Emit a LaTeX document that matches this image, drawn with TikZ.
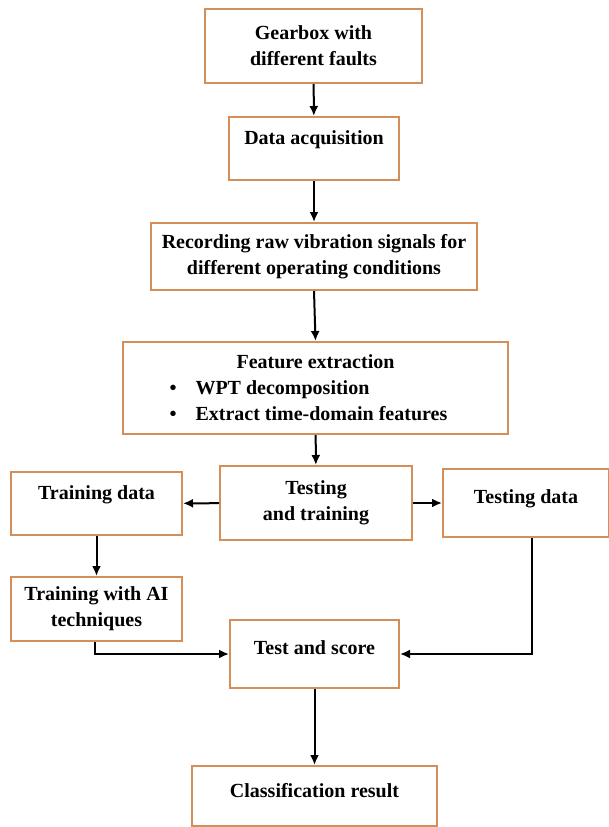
\documentclass[tikz,border=0pt]{standalone}
\usepackage{fontspec}
\setmainfont{Liberation Serif}
\usetikzlibrary{arrows.meta}
\definecolor{boxorange}{RGB}{214,142,88}
\begin{document}
\begin{tikzpicture}[x=1pt,y=-1pt,
	box/.style={draw=boxorange,line width=2pt,rectangle,inner sep=0pt,align=center,font=\fontsize{20}{26}\selectfont\bfseries},
	high/.style={text height=14pt,text depth=#1},
	flow/.style={line width=2pt,-{Latex[length=10pt,width=9pt]}}]
		\useasboundingbox (0,0) rectangle (608,827);
		\node [box,minimum width=217,minimum height=74] (gear) at (313.5,46) {Gearbox with\\different faults};
		\node [box,high=22pt,minimum width=170,minimum height=63] (acq) at (314,148.5) {Data acquisition};
		\node [box,minimum width=326,minimum height=67] (rec) at (314,256.5) {Recording raw vibration signals for\\different operating conditions};
		\node [box,minimum width=385,minimum height=92] (feat) at (315.5,388) {Feature extraction\\
			\makebox[292pt][l]{\textbullet\hspace{19pt}WPT decomposition}\\
			\makebox[292pt][l]{\textbullet\hspace{19pt}Extract time-domain features}};
		\node [box,minimum width=192,minimum height=74] (tt) at (316,503) {Testing\\and training};
		\node [box,high=22pt,minimum width=171,minimum height=63] (trd) at (96.5,503.5) {Training data};
		\node [box,high=13pt,minimum width=166,minimum height=68] (tsd) at (526,503) {Testing data};
		\node [box,minimum width=171,minimum height=64] (ai) at (96.5,609) {Training with AI\\techniques};
		\node [box,high=13pt,minimum width=169,minimum height=68] (ts) at (314.5,654) {Test and score};
		\node [box,high=11pt,minimum width=245,minimum height=60] (cls) at (314.5,796) {Classification result};
		\draw [flow] (gear) -- (acq);
		\draw [flow] (acq) -- (rec);
		\draw [flow] (rec.south) -- (feat.north);
		\draw [flow] (feat) -- (tt);
		\draw [flow] (tt) -- (trd);
		\draw [flow] (tt) -- (tsd);
		\draw [flow] (trd) -- (ai);
		\draw [flow] ([xshift=-2pt]ai.south) |- (ts.west);
		\draw [flow] ([xshift=6pt]tsd.south) |- (ts.east);
		\draw [flow] (ts) -- (cls);
\end{tikzpicture}
\end{document}
